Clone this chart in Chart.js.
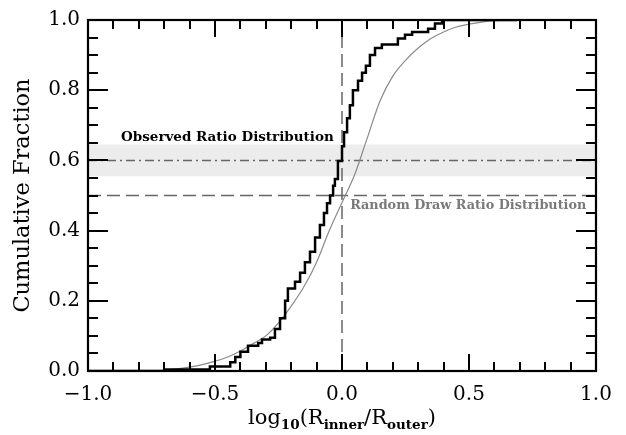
<!DOCTYPE html>
<html>
<head>
<meta charset="utf-8">
<script src="https://cdn.jsdelivr.net/npm/chart.js@4/dist/chart.umd.min.js"></script>
<style>
  html, body { margin: 0; padding: 0; background: #fff; }
  #wrap { width: 626px; height: 435px; }
</style>
</head>
<body>
<div id="wrap"><canvas id="graph" width="626" height="435"></canvas></div>
<script>
// observed ratio distribution (step CDF)
const obsX = [-1.0, -0.70, -0.52, -0.44, -0.42, -0.40, -0.37, -0.33, -0.315, -0.283, -0.264, -0.244, -0.224, -0.213,
    -0.185, -0.165, -0.146, -0.126, -0.106, -0.087, -0.071, -0.059, -0.047, -0.035, -0.028, -0.016,
    0.0, 0.008, 0.02, 0.031, 0.043, 0.063, 0.079, 0.094, 0.11, 0.13, 0.157, 0.22, 0.248, 0.276, 0.339, 0.366, 0.394, 0.69];
const obsY = [0.0, 0.004, 0.013, 0.025, 0.04, 0.055, 0.072, 0.08, 0.09, 0.095, 0.12, 0.15, 0.2, 0.235,
    0.254, 0.28, 0.31, 0.34, 0.38, 0.416, 0.45, 0.478, 0.50, 0.528, 0.547, 0.598,
    0.64, 0.68, 0.72, 0.757, 0.80, 0.827, 0.85, 0.87, 0.90, 0.92, 0.93, 0.947, 0.958, 0.966, 0.975, 0.99, 1.0, 1.0];

// random draw ratio distribution
const randX = [-0.75, -0.70, -0.65, -0.60, -0.55, -0.50, -0.45, -0.40, -0.35, -0.30, -0.25, -0.20, -0.15, -0.10, -0.05,
    0.0, 0.05, 0.10, 0.15, 0.20, 0.25, 0.30, 0.35, 0.40, 0.45, 0.50, 0.55, 0.60, 0.65, 0.70];
const randY = [0.0, 0.002, 0.006, 0.011, 0.018, 0.028, 0.04, 0.057, 0.078, 0.10, 0.137, 0.185, 0.24, 0.31, 0.40,
    0.48, 0.56, 0.665, 0.77, 0.84, 0.885, 0.92, 0.947, 0.966, 0.98, 0.988, 0.994, 0.998, 1.0, 1.0];

// reference levels
const observedRatio = 0.6;
const observedBand = [0.555, 0.645];
const halfLevel = 0.5;
const xRange = [-1.0, 1.0];

const xMajor = [-1.0, -0.5, 0.0, 0.5, 1.0];
const yMajor = [0.0, 0.2, 0.4, 0.6, 0.8, 1.0];
const xMinorStep = 0.1;
const yMinorStep = 0.05;

const SERIF = '"DejaVu Serif", "Liberation Serif", serif';

function pts(xs, ys) {
    return xs.map((x, i) => ({ x: x, y: ys[i] }));
}

const framePlugin = {
    id: 'frame',
    afterDraw(chart) {
        const ctx = chart.ctx;
        const a = chart.chartArea;
        const xs = chart.scales.x;
        const ys = chart.scales.y;
        ctx.save();
        ctx.strokeStyle = '#000';
        ctx.lineWidth = 2.2;
        ctx.strokeRect(a.left, a.top, a.right - a.left, a.bottom - a.top);
        // ticks on all four sides, pointing inward
        ctx.lineWidth = 2;
        for (let v = xRange[0]; v <= xRange[1] + 1e-9; v += xMinorStep) {
            const isMajor = xMajor.some(m => Math.abs(m - v) < 1e-6);
            const len = isMajor ? 17 : 9;
            const px = Math.round(xs.getPixelForValue(v));
            ctx.beginPath();
            ctx.moveTo(px, a.bottom); ctx.lineTo(px, a.bottom - len);
            ctx.moveTo(px, a.top); ctx.lineTo(px, a.top + len);
            ctx.stroke();
        }
        for (let v = 0; v <= 1 + 1e-9; v += yMinorStep) {
            const isMajor = yMajor.some(m => Math.abs(m - v) < 1e-6);
            const len = isMajor ? 20 : 10;
            const py = Math.round(ys.getPixelForValue(v));
            ctx.beginPath();
            ctx.moveTo(a.left, py); ctx.lineTo(a.left + len, py);
            ctx.moveTo(a.right, py); ctx.lineTo(a.right - len, py);
            ctx.stroke();
        }

        // x axis title with subscripts
        const parts = [
            ['log', false], ['10', true], ['(R', false], ['inner', true], ['/R', false], ['outer', true], [')', false]
        ];
        const big = '21px ' + SERIF;
        const small = 'bold 13.5px ' + SERIF;
        let total = 0;
        parts.forEach(p => { ctx.font = p[1] ? small : big; total += ctx.measureText(p[0]).width; });
        let cx = (a.left + a.right) / 2 - total / 2;
        const base = 424;
        ctx.fillStyle = '#000';
        ctx.textBaseline = 'alphabetic';
        ctx.textAlign = 'left';
        parts.forEach(p => {
            ctx.font = p[1] ? small : big;
            ctx.fillText(p[0], cx, p[1] ? base + 5 : base);
            cx += ctx.measureText(p[0]).width;
        });

        // labels for the two distributions
        ctx.textBaseline = 'middle';
        ctx.font = 'bold 13.5px ' + SERIF;
        ctx.fillStyle = '#000';
        ctx.fillText('Observed Ratio Distribution', xs.getPixelForValue(-0.87), ys.getPixelForValue(0.665));
        ctx.font = 'bold 12.8px ' + SERIF;
        ctx.fillStyle = '#7a7a7a';
        ctx.fillText('Random Draw Ratio Distribution', xs.getPixelForValue(0.032), ys.getPixelForValue(0.472));
        ctx.restore();
    }
};

const ctx = document.getElementById('graph').getContext('2d');
const chart = new Chart(ctx, {
    type: 'line',
    data: {
        datasets: [
            {
                label: 'Observed',
                data: pts(obsX, obsY),
                borderColor: '#000',
                borderWidth: 2.5,
                stepped: 'before',
                pointRadius: 0,
                fill: false
            },
            {
                label: 'Random draw',
                data: pts(randX, randY),
                borderColor: '#8a8a8a',
                borderWidth: 1.2,
                cubicInterpolationMode: 'monotone',
                pointRadius: 0,
                fill: false
            },
            {
                label: 'x=0',
                data: [{ x: 0, y: 0 }, { x: 0, y: 1 }],
                borderColor: '#666',
                borderWidth: 1.5,
                borderDash: [13, 6],
                pointRadius: 0,
                fill: false
            },
            {
                label: 'half',
                data: [{ x: xRange[0], y: halfLevel }, { x: xRange[1], y: halfLevel }],
                borderColor: '#666',
                borderWidth: 1.5,
                borderDash: [13, 6],
                pointRadius: 0,
                fill: false
            },
            {
                label: 'observed ratio',
                data: [{ x: xRange[0], y: observedRatio }, { x: xRange[1], y: observedRatio }],
                borderColor: '#666',
                borderWidth: 1.5,
                borderDash: [9, 4, 2, 4],
                pointRadius: 0,
                fill: false
            },
            {
                label: 'band top',
                data: [{ x: xRange[0], y: observedBand[1] }, { x: xRange[1], y: observedBand[1] }],
                borderWidth: 0,
                borderColor: 'rgba(0,0,0,0)',
                backgroundColor: '#ececec',
                pointRadius: 0,
                fill: '+1'
            },
            {
                label: 'band bottom',
                data: [{ x: xRange[0], y: observedBand[0] }, { x: xRange[1], y: observedBand[0] }],
                borderWidth: 0,
                borderColor: 'rgba(0,0,0,0)',
                pointRadius: 0,
                fill: false
            }
        ]
    },
    options: {
        responsive: false,
        animation: false,
        layout: { padding: { top: 13, right: 30, left: 0, bottom: 0 } },
        plugins: {
            legend: { display: false },
            tooltip: { enabled: false }
        },
        scales: {
            x: {
                type: 'linear',
                min: xRange[0],
                max: xRange[1],
                grid: { display: false, drawTicks: false },
                border: { display: false },
                ticks: {
                    stepSize: 0.5,
                    padding: 12,
                    color: '#000',
                    font: { family: SERIF, size: 20 },
                    maxRotation: 0,
                    callback: v => (v < 0 ? '\u2212' : '') + Math.abs(v).toFixed(1)
                },
                afterFit: s => { s.height = 64; }
            },
            y: {
                min: 0,
                max: 1,
                grid: { display: false, drawTicks: false },
                border: { display: false },
                ticks: {
                    stepSize: 0.2,
                    padding: 8,
                    color: '#000',
                    font: { family: SERIF, size: 20 },
                    callback: v => v.toFixed(1)
                },
                title: {
                    display: true,
                    text: 'Cumulative Fraction',
                    color: '#000',
                    font: { family: SERIF, size: 22.5 },
                    padding: { top: 10, bottom: 0 }
                },
                afterFit: s => { s.width = 88; }
            }
        }
    },
    plugins: [framePlugin]
});
</script>
</body>
</html>
